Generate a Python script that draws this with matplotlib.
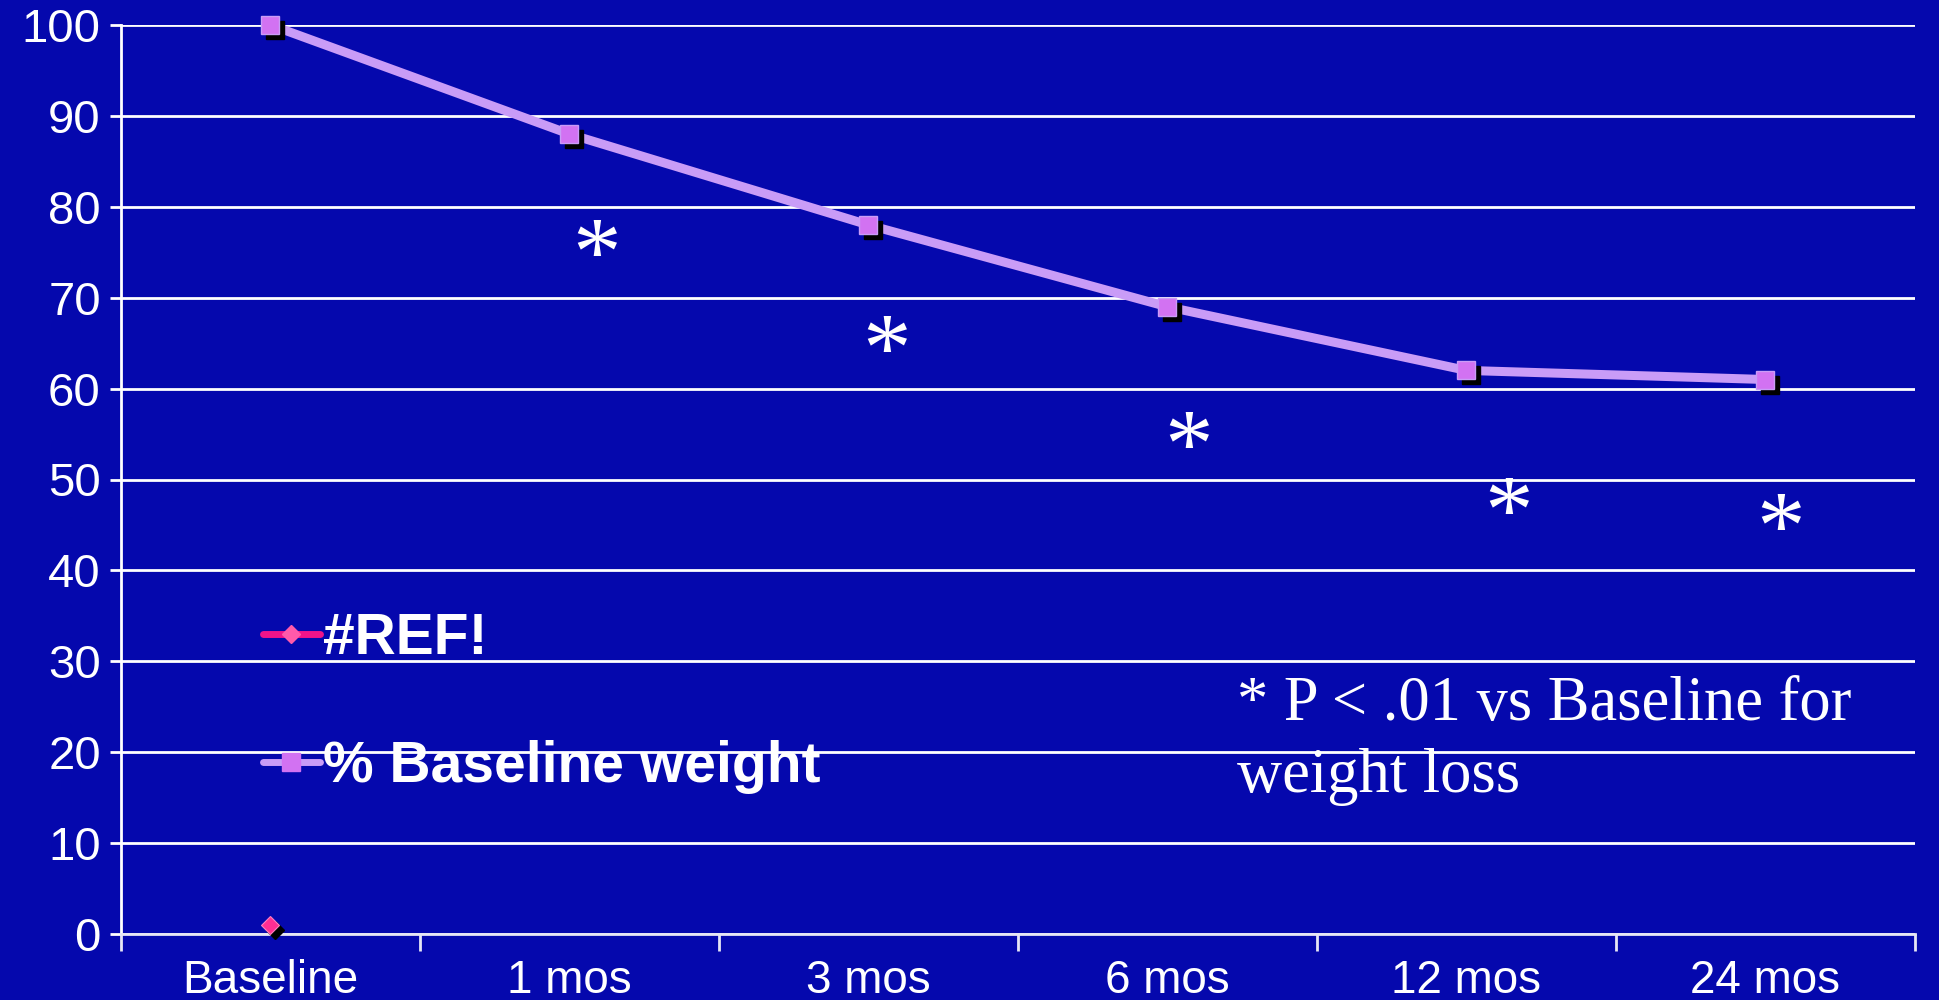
import matplotlib
matplotlib.use("Agg")
import matplotlib.pyplot as plt
import matplotlib.transforms as mtransforms
from matplotlib.lines import Line2D
from matplotlib.ticker import FixedLocator, NullFormatter
from matplotlib.textpath import TextPath
from matplotlib.font_manager import FontProperties

categories = ["Baseline", "1 mos", "3 mos", "6 mos", "12 mos", "24 mos"]
pct_baseline_weight = [100, 88, 78, 69, 62, 61]
ref_values = [1]  # only the Baseline point
yticks = [0, 10, 20, 30, 40, 50, 60, 70, 80, 90, 100]
star_x = [1.09, 2.06, 3.07, 4.14, 5.05]
star_y = [76.6, 66.0, 55.4, 48.2, 46.4]
footnote = "* P < .01 vs Baseline for\nweight loss"
legend_labels = ["#REF!", "% Baseline weight"]

BG = "#0508AD"
LINE = "#C99CF7"
MARK = "#D272F2"
PINK = "#FF2E93"
SANS = ["Liberation Sans", "DejaVu Sans"]
SERIF = ["Liberation Serif", "DejaVu Serif"]

fig = plt.figure(figsize=(19.4, 10), dpi=100, facecolor=BG)
ax = fig.add_axes([121 / 1940, 1 - 934 / 1000, (1915 - 121) / 1940, (934 - 25) / 1000])
ax.set_facecolor(BG)

x = list(range(len(categories)))
ax.set_xlim(-0.5, len(categories) - 0.5)
ax.set_ylim(0, 100)

for s in ["top", "right"]:
    ax.spines[s].set_visible(False)
for s in ["left", "bottom"]:
    ax.spines[s].set_color("white")
    ax.spines[s].set_linewidth(2)
ax.spines["bottom"].set_color("#E6E6F5")

ax.set_yticks(yticks)
ax.set_yticklabels([str(v) for v in yticks], family=SANS, fontsize=34, color="white")
ax.tick_params(axis="y", length=8, width=2, color="white", pad=6.5)
ax.yaxis.grid(True, color="white", linewidth=2)
ax.set_axisbelow(True)

ax.xaxis.set_major_locator(FixedLocator([i - 0.5 for i in range(len(categories) + 1)]))
ax.xaxis.set_major_formatter(NullFormatter())
ax.xaxis.set_minor_locator(FixedLocator(x))
ax.set_xticklabels(categories, minor=True, family=SANS, fontsize=33, color="white")
ax.tick_params(axis="x", which="major", length=12, width=2, color="#E6E6F5")
ax.tick_params(axis="x", which="minor", length=0, pad=18)

shadow = mtransforms.offset_copy(ax.transData, fig=fig, x=5, y=-5, units="dots")

# % Baseline weight series
ax.plot(x, pct_baseline_weight, color=LINE, linewidth=6.5, zorder=3, clip_on=False,
        solid_capstyle="butt")
ax.plot(x, pct_baseline_weight, linestyle="none", marker="s", markersize=13,
        color="black", transform=shadow, zorder=4, clip_on=False)
ax.plot(x, pct_baseline_weight, linestyle="none", marker="s", markersize=13,
        markerfacecolor=MARK, markeredgecolor=LINE, markeredgewidth=1, zorder=5, clip_on=False)

# #REF! series
ax.plot(x[:len(ref_values)], ref_values, linestyle="none", marker="D", markersize=9,
        color="black", transform=shadow, zorder=4, clip_on=False)
ax.plot(x[:len(ref_values)], ref_values, linestyle="none", marker="D", markersize=9,
        markerfacecolor=PINK, markeredgecolor="#FF7FC0", markeredgewidth=0.8, zorder=5, clip_on=False)

# significance asterisks: center the glyph itself on the point
STAR_FS = 70
ext = TextPath((0, 0), "*", size=STAR_FS, prop=FontProperties(family=SERIF)).get_extents()
gcx = (ext.x0 + ext.x1) / 2
gcy = (ext.y0 + ext.y1) / 2
star_tr = mtransforms.offset_copy(ax.transData, fig=fig, x=-gcx, y=-gcy, units="points")
for sx, sy in zip(star_x, star_y):
    ax.text(sx, sy, "*", family=SERIF, fontsize=STAR_FS, color="white", ha="left",
            va="baseline", transform=star_tr, zorder=6)

handles = [
    Line2D([], [], color="#F0148A", linewidth=5, marker="D", markersize=9,
           markerfacecolor="#FF5AAA", markeredgecolor="#FF5AAA", solid_capstyle="round"),
    Line2D([], [], color=LINE, linewidth=5, marker="s", markersize=13,
           markerfacecolor=MARK, markeredgecolor=MARK, solid_capstyle="round"),
]
leg = ax.legend(handles, legend_labels, loc="upper left",
                bbox_to_anchor=(263 / 1940, 1 - 612 / 1000), bbox_transform=fig.transFigure,
                frameon=False, borderpad=0, borderaxespad=0, handlelength=1.0,
                handletextpad=0.06, labelspacing=1.3,
                prop={"family": SANS, "size": 41, "weight": "bold"})
for t in leg.get_texts():
    t.set_color("white")

fig.text(1237 / 1940, 1 - 792 / 1000, footnote, family=SERIF, fontsize=45, color="white",
         ha="left", va="baseline", linespacing=1.31)

fig.savefig("out.png", dpi=100, facecolor=BG)
